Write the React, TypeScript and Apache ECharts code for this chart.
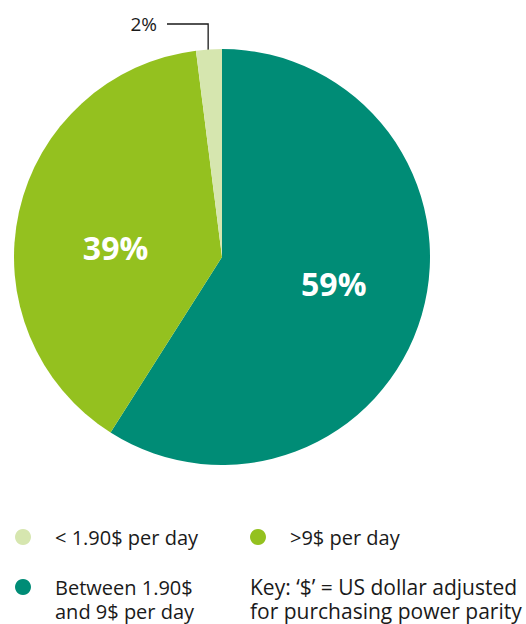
import React, { useEffect, useRef } from "react";
import * as echarts from "echarts";

const categories = ["Between 1.90$ and 9$ per day", ">9$ per day", "< 1.90$ per day"];
const values = [59, 39, 2];
const colors = ["#008C76", "#94C11F", "#D6E6AF"];
const legendRow1 = ["< 1.90$ per day", ">9$ per day"];
const legendRow2 = ["Between 1.90$ and 9$ per day"];
const legendRow2Lines = ["Between 1.90$", "and 9$ per day"];
const keyText = "Key: \u2018$\u2019 = US dollar adjusted\nfor purchasing power parity";

const FONT = "'Open Sans', 'Noto Sans', sans-serif";
const CX = 222;
const CY = 257;
const R = 208;

export default function App() {
  const ref = useRef<HTMLDivElement>(null);
  useEffect(() => {
    document.body.style.margin = "0";
    const chart = echarts.init(ref.current!, null, { renderer: "svg" });
    const total = values.reduce((a, b) => a + b, 0);
    const midAngles: number[] = [];
    let acc = 0;
    values.forEach((v) => {
      midAngles.push(((acc + v / 2) / total) * 2 * Math.PI);
      acc += v;
    });
    const legendText = {
      color: "#1a1a1a",
      fontFamily: FONT,
      fontSize: 20,
      padding: [0, 0, 0, 19],
    };
    const legendBase = {
      icon: "circle",
      itemWidth: 16,
      itemHeight: 16,
      padding: 0,
      textStyle: legendText,
      selectedMode: false,
    };
    chart.setOption({
      animation: false,
      color: colors,
      legend: [
        { ...legendBase, data: [legendRow1[0]], left: 15, top: 527 },
        { ...legendBase, data: [legendRow1[1]], left: 250, top: 527 },
        {
          ...legendBase,
          data: [legendRow2[0]],
          left: 15,
          top: 577,
          formatter: () => legendRow2Lines[0],
        },
      ],
      graphic: [
        {
          type: "text",
          left: 55,
          top: 599,
          style: {
            text: legendRow2Lines[1],
            fill: "#1a1a1a",
            font: `20px ${FONT}`,
            lineHeight: 24,
          },
        },
        {
          type: "text",
          left: 250,
          top: 575,
          style: {
            text: keyText,
            fill: "#1a1a1a",
            font: `21px ${FONT}`,
            lineHeight: 24,
          },
        },
      ],
      series: [
        {
          type: "pie",
          center: [CX, CY],
          radius: [0, R],
          startAngle: 90,
          clockwise: true,
          avoidLabelOverlap: false,
          silent: true,
          data: categories.map((name, i) => ({
            name,
            value: values[i],
            label:
              i === 2
                ? {
                    show: true,
                    position: "outside",
                    formatter: "{c}%",
                    color: "#1a1a1a",
                    fontSize: 19,
                    fontWeight: "normal",
                    fontFamily: FONT,
                  }
                : {
                    show: true,
                    position: "inside",
                    formatter: "{c}%",
                    color: "#ffffff",
                    fontSize: 32,
                    fontWeight: "bold",
                    fontFamily: FONT,
                  },
            labelLine:
              i === 2
                ? { show: true, lineStyle: { color: "#1a1a1a", width: 1.3 } }
                : { show: false },
          })),
          labelLayout: (params: any) => {
            const i = params.dataIndex;
            if (i === 2) {
              const a = midAngles[2] - 0.01;
              const r = R * 0.915;
              const ax = CX + r * Math.sin(a);
              const ay = CY - r * Math.cos(a);
              const ly = 24;
              return {
                x: 157,
                y: ly,
                align: "right",
                verticalAlign: "middle",
                labelLinePoints: [
                  [ax, ay],
                  [ax, ly],
                  [167, ly],
                ],
              };
            }
            if (i === 0) return { dx: 9, dy: -3 };
            if (i === 1) return { dx: -2, dy: 14 };
            return {};
          },
        },
      ],
    });
    return () => chart.dispose();
  }, []);
  return <div ref={ref} style={{ width: 526, height: 624 }} />;
}
